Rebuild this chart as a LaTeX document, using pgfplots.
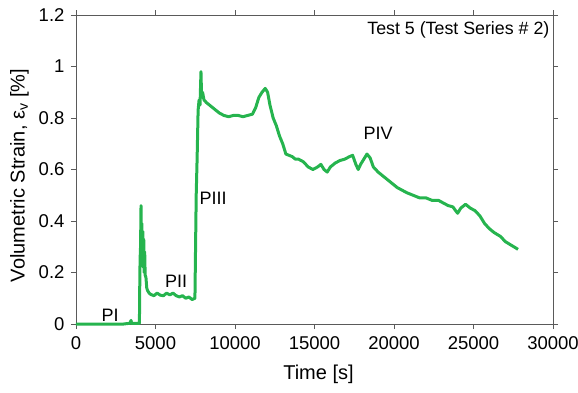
\documentclass[border=0pt]{standalone}
\usepackage{pgfplots}
\pgfplotsset{compat=1.18}
\usepackage{fontspec}
\setmainfont{Liberation Sans}
\definecolor{lgreen}{RGB}{38,180,78}
\definecolor{axgray}{RGB}{90,90,90}
\begin{document}
\begin{tikzpicture}
\begin{axis}[
  scale only axis, width=477pt, height=309pt,
  xmin=0, xmax=30000, ymin=0, ymax=1.2,
  xtick={0,5000,...,30000}, ytick={0,0.2,...,1.2},
  yticklabels={0,0.2,0.4,0.6,0.8,1,1.2},
  tick align=outside, major tick length=5pt,
  tick style={axgray, line width=0.8pt},
  axis line style={axgray, line width=0.9pt},
  /pgf/number format/assume math mode=true,
  /pgf/number format/set thousands separator={},
  scaled x ticks=false,
  ticklabel style={font=\fontsize{18.5}{20}\selectfont},
  xticklabel style={yshift=-4pt},
  yticklabel style={xshift=-3pt},
  label style={font=\fontsize{20}{22}\selectfont},
  xlabel={Time [s]}, ylabel={Volumetric Strain, ε\textsubscript{v} [\%]},
  xlabel style={yshift=-9pt, xshift=4pt},
  ylabel style={yshift=3pt, xshift=-6pt},
  clip=false,
]
\coordinate (o) at (rel axis cs:0,0);
\addplot[lgreen, line width=3pt, line join=round] coordinates {
(0,0) (1000,0) (2000,0) (3000,0) (3400,0.003) (3460,0.014) (3500,0.002) (3990,0.002)
(4000,0.1) (4030,0.25) (4060,0.3) (4090,0.46) (4110,0.3) (4140,0.39) (4170,0.25)
(4200,0.36) (4230,0.22) (4260,0.33) (4290,0.2) (4320,0.28) (4350,0.19) (4400,0.18)
(4450,0.14) (4500,0.13) (4600,0.12) (4700,0.115) (4900,0.11) (5100,0.12) (5300,0.112)
(5500,0.11) (5700,0.12) (5900,0.113) (6100,0.12) (6300,0.11) (6500,0.105) (6700,0.11)
(6900,0.1) (7100,0.105) (7300,0.095) (7480,0.1) (7520,0.3) (7560,0.5) (7620,0.65)
(7680,0.83) (7740,0.87) (7800,0.85) (7860,0.98) (7900,0.88) (7960,0.9) (8050,0.87)
(8200,0.86) (8400,0.85) (8600,0.84) (8800,0.83) (9000,0.82) (9300,0.81) (9600,0.805)
(9900,0.81) (10200,0.81) (10500,0.805) (10800,0.81) (11100,0.815) (11300,0.84)
(11500,0.88) (11700,0.9) (11900,0.915) (12050,0.9) (12200,0.85) (12400,0.8) (12600,0.77)
(12800,0.73) (13000,0.7) (13200,0.66) (13400,0.655) (13600,0.65) (13800,0.64) (14000,0.64)
(14300,0.63) (14600,0.61) (14900,0.6) (15200,0.61) (15400,0.62) (15600,0.6) (15800,0.59)
(16000,0.61) (16300,0.625) (16600,0.635) (16900,0.64) (17200,0.65) (17400,0.655)
(17600,0.62) (17750,0.6) (17900,0.62) (18100,0.64) (18300,0.66) (18500,0.645) (18700,0.61)
(19000,0.59) (19300,0.575) (19600,0.56) (19900,0.545) (20200,0.53) (20500,0.52)
(20800,0.51) (21200,0.5) (21600,0.49) (22000,0.49) (22400,0.48) (22800,0.48) (23100,0.47)
(23400,0.46) (23700,0.455) (24000,0.43) (24200,0.45) (24500,0.465) (24800,0.45)
(25100,0.44) (25400,0.42) (25700,0.39) (26000,0.37) (26300,0.355) (26700,0.34)
(27000,0.32) (27400,0.305) (27800,0.29)
};
\node[font=\fontsize{18}{20}\selectfont] at (axis cs:2150,0.035) {PI};
\node[font=\fontsize{18}{20}\selectfont] at (axis cs:6300,0.165) {PII};
\node[font=\fontsize{18}{20}\selectfont] at (axis cs:8620,0.49) {PIII};
\node[font=\fontsize{18}{20}\selectfont] at (axis cs:19000,0.74) {PIV};
\node[font=\fontsize{17.8}{20}\selectfont, anchor=north east, inner sep=2pt] at (rel axis cs:0.997,0.985) {Test 5 (Test Series \# 2)};
\end{axis}
\pgfresetboundingbox
\path (o) ++(-76pt,-68pt) rectangle ++(578pt,392pt);
\end{tikzpicture}
\end{document}
